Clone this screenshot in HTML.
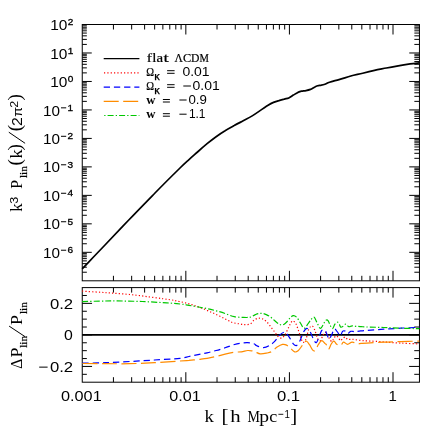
<!DOCTYPE html><html><head><meta charset="utf-8"><style>html,body{margin:0;padding:0;background:#fff}svg{display:block}text{font-family:"Liberation Serif",serif;fill:#000}.s{font-family:"Liberation Sans",sans-serif}.b{stroke:#000;stroke-width:0.2px}</style></head><body>
<svg style="will-change:transform" width="443" height="443" viewBox="0 0 443 443">
<rect width="443" height="443" fill="#fff"/>
<path d="M113.43 24.50L113.43 29.50M113.43 280.80L113.43 275.80M113.43 287.60L113.43 292.60M113.43 382.20L113.43 377.20M131.67 24.50L131.67 29.50M131.67 280.80L131.67 275.80M131.67 287.60L131.67 292.60M131.67 382.20L131.67 377.20M144.61 24.50L144.61 29.50M144.61 280.80L144.61 275.80M144.61 287.60L144.61 292.60M144.61 382.20L144.61 377.20M154.65 24.50L154.65 29.50M154.65 280.80L154.65 275.80M154.65 287.60L154.65 292.60M154.65 382.20L154.65 377.20M162.86 24.50L162.86 29.50M162.86 280.80L162.86 275.80M162.86 287.60L162.86 292.60M162.86 382.20L162.86 377.20M169.79 24.50L169.79 29.50M169.79 280.80L169.79 275.80M169.79 287.60L169.79 292.60M169.79 382.20L169.79 377.20M175.80 24.50L175.80 29.50M175.80 280.80L175.80 275.80M175.80 287.60L175.80 292.60M175.80 382.20L175.80 377.20M181.10 24.50L181.10 29.50M181.10 280.80L181.10 275.80M181.10 287.60L181.10 292.60M181.10 382.20L181.10 377.20M185.84 24.50L185.84 34.50M185.84 280.80L185.84 270.80M185.84 287.60L185.84 297.60M185.84 382.20L185.84 372.20M217.02 24.50L217.02 29.50M217.02 280.80L217.02 275.80M217.02 287.60L217.02 292.60M217.02 382.20L217.02 377.20M235.26 24.50L235.26 29.50M235.26 280.80L235.26 275.80M235.26 287.60L235.26 292.60M235.26 382.20L235.26 377.20M248.20 24.50L248.20 29.50M248.20 280.80L248.20 275.80M248.20 287.60L248.20 292.60M248.20 382.20L248.20 377.20M258.24 24.50L258.24 29.50M258.24 280.80L258.24 275.80M258.24 287.60L258.24 292.60M258.24 382.20L258.24 377.20M266.44 24.50L266.44 29.50M266.44 280.80L266.44 275.80M266.44 287.60L266.44 292.60M266.44 382.20L266.44 377.20M273.38 24.50L273.38 29.50M273.38 280.80L273.38 275.80M273.38 287.60L273.38 292.60M273.38 382.20L273.38 377.20M279.38 24.50L279.38 29.50M279.38 280.80L279.38 275.80M279.38 287.60L279.38 292.60M279.38 382.20L279.38 377.20M284.68 24.50L284.68 29.50M284.68 280.80L284.68 275.80M284.68 287.60L284.68 292.60M284.68 382.20L284.68 377.20M289.42 24.50L289.42 34.50M289.42 280.80L289.42 270.80M289.42 287.60L289.42 297.60M289.42 382.20L289.42 372.20M320.60 24.50L320.60 29.50M320.60 280.80L320.60 275.80M320.60 287.60L320.60 292.60M320.60 382.20L320.60 377.20M338.84 24.50L338.84 29.50M338.84 280.80L338.84 275.80M338.84 287.60L338.84 292.60M338.84 382.20L338.84 377.20M351.79 24.50L351.79 29.50M351.79 280.80L351.79 275.80M351.79 287.60L351.79 292.60M351.79 382.20L351.79 377.20M361.82 24.50L361.82 29.50M361.82 280.80L361.82 275.80M361.82 287.60L361.82 292.60M361.82 382.20L361.82 377.20M370.03 24.50L370.03 29.50M370.03 280.80L370.03 275.80M370.03 287.60L370.03 292.60M370.03 382.20L370.03 377.20M376.96 24.50L376.96 29.50M376.96 280.80L376.96 275.80M376.96 287.60L376.96 292.60M376.96 382.20L376.96 377.20M382.97 24.50L382.97 29.50M382.97 280.80L382.97 275.80M382.97 287.60L382.97 292.60M382.97 382.20L382.97 377.20M388.27 24.50L388.27 29.50M388.27 280.80L388.27 275.80M388.27 287.60L388.27 292.60M388.27 382.20L388.27 377.20M393.01 24.50L393.01 34.50M393.01 280.80L393.01 270.80M393.01 287.60L393.01 297.60M393.01 382.20L393.01 372.20M82.25 272.23L86.85 272.23M419.45 272.23L414.35 272.23M82.25 267.21L86.85 267.21M419.45 267.21L414.35 267.21M82.25 263.65L86.85 263.65M419.45 263.65L414.35 263.65M82.25 260.89L86.85 260.89M419.45 260.89L414.35 260.89M82.25 258.64L86.85 258.64M419.45 258.64L414.35 258.64M82.25 256.73L86.85 256.73M419.45 256.73L414.35 256.73M82.25 255.08L86.85 255.08M419.45 255.08L414.35 255.08M82.25 253.63L86.85 253.63M419.45 253.63L414.35 253.63M82.25 252.32L91.75 252.32M419.45 252.32L409.25 252.32M82.25 243.75L86.85 243.75M419.45 243.75L414.35 243.75M82.25 238.73L86.85 238.73M419.45 238.73L414.35 238.73M82.25 235.18L86.85 235.18M419.45 235.18L414.35 235.18M82.25 232.42L86.85 232.42M419.45 232.42L414.35 232.42M82.25 230.16L86.85 230.16M419.45 230.16L414.35 230.16M82.25 228.26L86.85 228.26M419.45 228.26L414.35 228.26M82.25 226.60L86.85 226.60M419.45 226.60L414.35 226.60M82.25 225.15L86.85 225.15M419.45 225.15L414.35 225.15M82.25 223.84L91.75 223.84M419.45 223.84L409.25 223.84M82.25 215.27L86.85 215.27M419.45 215.27L414.35 215.27M82.25 210.26L86.85 210.26M419.45 210.26L414.35 210.26M82.25 206.70L86.85 206.70M419.45 206.70L414.35 206.70M82.25 203.94L86.85 203.94M419.45 203.94L414.35 203.94M82.25 201.68L86.85 201.68M419.45 201.68L414.35 201.68M82.25 199.78L86.85 199.78M419.45 199.78L414.35 199.78M82.25 198.13L86.85 198.13M419.45 198.13L414.35 198.13M82.25 196.67L86.85 196.67M419.45 196.67L414.35 196.67M82.25 195.37L91.75 195.37M419.45 195.37L409.25 195.37M82.25 186.79L86.85 186.79M419.45 186.79L414.35 186.79M82.25 181.78L86.85 181.78M419.45 181.78L414.35 181.78M82.25 178.22L86.85 178.22M419.45 178.22L414.35 178.22M82.25 175.46L86.85 175.46M419.45 175.46L414.35 175.46M82.25 173.21L86.85 173.21M419.45 173.21L414.35 173.21M82.25 171.30L86.85 171.30M419.45 171.30L414.35 171.30M82.25 169.65L86.85 169.65M419.45 169.65L414.35 169.65M82.25 168.19L86.85 168.19M419.45 168.19L414.35 168.19M82.25 166.89L91.75 166.89M419.45 166.89L409.25 166.89M82.25 158.32L86.85 158.32M419.45 158.32L414.35 158.32M82.25 153.30L86.85 153.30M419.45 153.30L414.35 153.30M82.25 149.74L86.85 149.74M419.45 149.74L414.35 149.74M82.25 146.98L86.85 146.98M419.45 146.98L414.35 146.98M82.25 144.73L86.85 144.73M419.45 144.73L414.35 144.73M82.25 142.82L86.85 142.82M419.45 142.82L414.35 142.82M82.25 141.17L86.85 141.17M419.45 141.17L414.35 141.17M82.25 139.71L86.85 139.71M419.45 139.71L414.35 139.71M82.25 138.41L91.75 138.41M419.45 138.41L409.25 138.41M82.25 129.84L86.85 129.84M419.45 129.84L414.35 129.84M82.25 124.82L86.85 124.82M419.45 124.82L414.35 124.82M82.25 121.27L86.85 121.27M419.45 121.27L414.35 121.27M82.25 118.51L86.85 118.51M419.45 118.51L414.35 118.51M82.25 116.25L86.85 116.25M419.45 116.25L414.35 116.25M82.25 114.34L86.85 114.34M419.45 114.34L414.35 114.34M82.25 112.69L86.85 112.69M419.45 112.69L414.35 112.69M82.25 111.24L86.85 111.24M419.45 111.24L414.35 111.24M82.25 109.93L91.75 109.93M419.45 109.93L409.25 109.93M82.25 101.36L86.85 101.36M419.45 101.36L414.35 101.36M82.25 96.35L86.85 96.35M419.45 96.35L414.35 96.35M82.25 92.79L86.85 92.79M419.45 92.79L414.35 92.79M82.25 90.03L86.85 90.03M419.45 90.03L414.35 90.03M82.25 87.77L86.85 87.77M419.45 87.77L414.35 87.77M82.25 85.87L86.85 85.87M419.45 85.87L414.35 85.87M82.25 84.22L86.85 84.22M419.45 84.22L414.35 84.22M82.25 82.76L86.85 82.76M419.45 82.76L414.35 82.76M82.25 81.46L91.75 81.46M419.45 81.46L409.25 81.46M82.25 72.88L86.85 72.88M419.45 72.88L414.35 72.88M82.25 67.87L86.85 67.87M419.45 67.87L414.35 67.87M82.25 64.31L86.85 64.31M419.45 64.31L414.35 64.31M82.25 61.55L86.85 61.55M419.45 61.55L414.35 61.55M82.25 59.30L86.85 59.30M419.45 59.30L414.35 59.30M82.25 57.39L86.85 57.39M419.45 57.39L414.35 57.39M82.25 55.74L86.85 55.74M419.45 55.74L414.35 55.74M82.25 54.28L86.85 54.28M419.45 54.28L414.35 54.28M82.25 52.98L91.75 52.98M419.45 52.98L409.25 52.98M82.25 44.41L86.85 44.41M419.45 44.41L414.35 44.41M82.25 39.39L86.85 39.39M419.45 39.39L414.35 39.39M82.25 35.83L86.85 35.83M419.45 35.83L414.35 35.83M82.25 33.07L86.85 33.07M419.45 33.07L414.35 33.07M82.25 30.82L86.85 30.82M419.45 30.82L414.35 30.82M82.25 28.91L86.85 28.91M419.45 28.91L414.35 28.91M82.25 27.26L86.85 27.26M419.45 27.26L414.35 27.26M82.25 25.80L86.85 25.80M419.45 25.80L414.35 25.80M82.25 374.32L86.85 374.32M419.45 374.32L414.25 374.32M82.25 366.43L92.05 366.43M419.45 366.43L409.15 366.43M82.25 358.55L86.85 358.55M419.45 358.55L414.25 358.55M82.25 350.67L86.85 350.67M419.45 350.67L414.25 350.67M82.25 342.78L86.85 342.78M419.45 342.78L414.25 342.78M82.25 334.90L92.05 334.90M419.45 334.90L409.15 334.90M82.25 327.02L86.85 327.02M419.45 327.02L414.25 327.02M82.25 319.13L86.85 319.13M419.45 319.13L414.25 319.13M82.25 311.25L86.85 311.25M419.45 311.25L414.25 311.25M82.25 303.37L92.05 303.37M419.45 303.37L409.15 303.37M82.25 295.48L86.85 295.48M419.45 295.48L414.25 295.48" stroke="#000" stroke-width="1.0" fill="none"/>
<rect x="82.25" y="24.5" width="337.2" height="256.30" fill="none" stroke="#000" stroke-width="1.0"/>
<rect x="82.25" y="287.6" width="337.2" height="94.60" fill="none" stroke="#000" stroke-width="1.0"/>
<path d="M82.2 268.9C84.1 266.9 89.7 261.0 93.5 257.0C97.3 253.0 99.2 251.1 105.0 245.0C110.8 238.9 120.0 229.2 128.3 220.5C136.6 211.8 146.4 201.8 155.0 193.0C163.6 184.2 174.3 173.6 180.0 168.0C185.7 162.4 186.0 162.3 189.0 159.6C192.0 156.8 195.1 154.2 198.1 151.5C201.1 148.8 204.1 146.2 207.1 143.7C210.1 141.2 213.1 138.9 216.1 136.7C219.1 134.5 222.1 132.5 225.1 130.7C228.1 128.8 231.2 127.2 234.2 125.6C237.2 123.9 240.2 122.4 243.2 120.8C246.2 119.2 249.6 117.5 252.2 115.9C254.8 114.3 256.4 113.2 259.0 111.4C261.6 109.6 265.7 106.8 268.1 105.3C270.5 103.8 271.7 103.2 273.5 102.4C275.3 101.6 277.1 101.1 278.9 100.6C280.7 100.0 282.6 99.5 284.3 99.1C286.0 98.6 287.3 98.6 288.8 97.9C290.3 97.2 291.8 96.0 293.3 95.1C294.8 94.2 296.5 93.1 297.9 92.4C299.3 91.8 300.1 91.5 301.5 91.2C302.9 90.9 304.5 90.9 306.0 90.6C307.5 90.3 309.1 89.9 310.5 89.4C311.9 88.9 312.9 88.0 314.1 87.4C315.3 86.8 316.5 86.2 317.7 85.8C318.9 85.4 320.1 85.5 321.3 85.2C322.5 85.0 323.5 84.8 324.9 84.3C326.3 83.8 327.1 83.0 329.5 82.2C331.9 81.4 335.4 80.6 339.0 79.6C342.6 78.6 346.9 77.1 350.8 76.0C354.8 74.9 358.8 74.2 362.7 73.2C366.6 72.2 370.6 71.2 374.5 70.3C378.4 69.4 382.4 68.8 386.4 68.0C390.3 67.2 394.2 66.5 398.2 65.8C402.1 65.1 406.6 64.4 410.1 63.9C413.6 63.4 417.8 62.9 419.3 62.8" stroke="#000" stroke-width="1.7" fill="none"/>
<path d="M82.25 334.90H419.45" stroke="#000" stroke-width="1.8" fill="none"/>
<path d="M82.2 291.1C86.0 291.4 96.9 292.0 104.8 292.6C112.7 293.2 121.4 293.7 129.7 294.5C138.0 295.3 147.8 296.7 154.5 297.6C161.2 298.5 165.9 299.1 170.0 299.7C174.1 300.3 176.1 300.8 179.3 301.5C182.5 302.2 185.9 302.9 189.0 303.8C192.1 304.7 195.1 305.7 198.1 306.8C201.1 307.9 204.1 309.1 207.1 310.4C210.1 311.7 213.1 313.0 216.1 314.4C219.1 315.8 222.4 317.5 225.1 318.9C227.8 320.2 230.0 321.7 232.4 322.5C234.8 323.3 237.5 323.5 239.6 323.9C241.7 324.3 243.2 324.7 245.0 324.7C246.8 324.7 248.9 324.7 250.4 323.9C251.9 323.1 252.8 321.0 254.1 320.1C255.4 319.2 256.8 318.5 258.1 318.3C259.5 318.1 260.8 318.2 262.2 318.7C263.6 319.2 264.9 320.1 266.3 321.4C267.7 322.6 269.0 324.5 270.3 326.2C271.6 327.9 273.1 329.9 274.4 331.6C275.6 333.3 276.6 335.2 277.8 336.3C279.0 337.4 280.6 338.4 281.8 338.1C283.0 337.8 284.1 336.1 285.2 334.3C286.3 332.5 287.6 329.5 288.6 327.5C289.6 325.5 290.5 323.2 291.3 322.1C292.1 321.0 292.5 320.7 293.3 321.0C294.1 321.3 295.2 322.3 296.1 324.1C297.0 325.9 297.9 329.0 298.8 331.6C299.7 334.2 300.7 337.9 301.5 339.7C302.3 341.5 302.7 342.6 303.5 342.4C304.3 342.2 305.3 340.7 306.2 338.5C307.1 336.3 307.8 331.2 308.8 329.1C309.8 327.0 311.2 325.8 312.2 326.0C313.2 326.2 314.0 328.4 314.9 330.5C315.8 332.6 316.7 336.9 317.6 338.6C318.5 340.3 319.4 341.2 320.3 340.6C321.2 340.0 322.2 336.6 323.0 335.2C323.8 333.8 324.4 332.3 325.2 332.3C326.0 332.3 327.0 334.2 327.7 335.3C328.4 336.4 328.8 337.8 329.5 338.9C330.2 339.9 331.1 341.6 331.8 341.6C332.5 341.6 332.9 339.8 333.6 338.9C334.3 337.9 335.0 336.1 335.8 335.9C336.6 335.7 337.8 336.8 338.5 337.6C339.2 338.4 339.6 340.5 340.3 340.7C341.0 340.9 341.8 339.3 342.6 338.7C343.4 338.1 344.5 337.0 345.3 337.1C346.1 337.2 346.6 339.0 347.6 339.4C348.6 339.8 350.0 339.2 351.2 339.2C352.4 339.2 353.1 339.4 354.8 339.6C356.5 339.8 359.1 340.3 361.1 340.5C363.1 340.7 363.1 340.7 366.9 340.9C370.7 341.1 378.2 341.5 383.9 341.9C389.5 342.3 394.9 342.8 400.8 343.1C406.7 343.4 416.3 343.8 419.4 343.9" stroke="#ff0000" stroke-width="1.2" stroke-dasharray="1.2 2.14" fill="none"/>
<path d="M82.5 363.2C86.2 363.1 96.9 363.0 104.8 362.7C112.7 362.4 121.4 361.9 129.7 361.5C138.0 361.1 146.1 360.5 154.5 360.0C162.9 359.5 174.2 358.9 180.0 358.3C185.8 357.7 186.0 357.1 189.0 356.5C192.0 355.9 195.1 355.2 198.1 354.6C201.1 354.0 204.1 353.5 207.1 352.8C210.1 352.1 213.1 351.3 216.1 350.5C219.1 349.7 222.4 348.7 225.1 347.8C227.8 346.9 230.0 345.9 232.4 345.1C234.8 344.4 237.1 343.7 239.6 343.3C242.1 342.9 245.3 342.6 247.7 342.7C250.1 342.8 252.5 343.3 254.0 343.8C255.5 344.3 255.2 345.2 256.8 345.8C258.4 346.4 261.5 347.6 263.5 347.6C265.5 347.6 267.2 346.8 269.0 345.8C270.8 344.8 272.7 343.4 274.4 341.7C276.1 340.0 277.5 337.2 279.1 335.6C280.7 334.0 282.6 332.5 283.9 332.2C285.1 331.9 285.6 332.6 286.6 333.6C287.6 334.6 288.9 336.6 290.0 338.3C291.1 340.0 292.2 342.6 293.3 343.8C294.4 345.0 295.6 345.9 296.7 345.4C297.8 344.8 299.0 342.7 300.1 340.5C301.2 338.3 302.3 334.3 303.4 332.3C304.5 330.3 305.7 328.5 306.8 328.4C307.9 328.3 309.1 330.0 310.2 331.8C311.3 333.6 312.5 337.5 313.5 339.3C314.5 341.1 315.4 343.1 316.3 342.7C317.2 342.3 318.1 339.2 319.0 337.2C319.9 335.2 320.7 331.6 321.7 330.5C322.7 329.4 324.3 330.1 325.1 330.5C325.9 330.9 325.9 331.9 326.4 333.1C326.9 334.3 327.7 336.5 328.2 337.5C328.7 338.5 328.9 339.4 329.5 338.9C330.1 338.4 331.0 336.0 331.8 334.4C332.6 332.8 333.6 329.4 334.5 329.0C335.4 328.6 336.2 330.6 337.2 331.7C338.2 332.8 339.4 335.9 340.3 335.8C341.2 335.7 341.8 332.1 342.6 331.3C343.4 330.5 344.4 330.7 345.3 331.1C346.2 331.5 347.1 333.5 348.0 333.5C348.9 333.5 349.6 331.6 350.7 331.3C351.8 331.0 353.4 331.7 354.8 331.7C356.2 331.7 357.3 331.3 359.3 331.1C361.3 330.9 362.8 330.7 366.9 330.4C371.0 330.1 378.2 329.6 383.9 329.2C389.5 328.8 394.9 328.5 400.8 328.2C406.7 327.9 416.3 327.4 419.4 327.3" stroke="#0000ff" stroke-width="1.2" stroke-dasharray="6.3 3.9" fill="none"/>
<path d="M82.5 363.5C86.2 363.5 96.9 363.7 104.8 363.7C112.7 363.7 121.4 363.9 129.7 363.7C138.0 363.5 146.1 363.1 154.5 362.7C162.9 362.2 174.2 361.4 180.0 361.0C185.8 360.6 186.0 360.6 189.0 360.4C192.0 360.1 195.1 359.9 198.1 359.5C201.1 359.1 204.1 358.8 207.1 358.3C210.1 357.8 213.1 357.2 216.1 356.5C219.1 355.8 222.1 354.8 225.1 354.1C228.1 353.4 231.5 352.7 234.2 352.3C236.9 351.9 239.2 352.1 241.4 351.8C243.7 351.5 245.9 350.6 247.7 350.5C249.5 350.4 250.9 350.7 252.2 350.9C253.5 351.1 254.1 351.4 255.4 351.9C256.7 352.4 258.4 353.7 260.2 353.9C262.0 354.1 264.4 353.6 266.3 353.2C268.2 352.8 269.9 352.6 271.7 351.6C273.5 350.6 275.3 348.3 277.1 347.1C278.9 345.9 280.9 344.7 282.5 344.4C284.1 344.1 285.2 344.4 286.6 345.1C288.0 345.8 289.2 347.4 290.6 348.5C292.0 349.6 293.4 351.5 294.7 351.9C295.9 352.3 297.0 351.7 298.1 350.8C299.2 349.9 300.5 347.9 301.5 346.5C302.5 345.1 303.3 343.3 304.2 342.4C305.1 341.5 305.7 340.9 306.6 341.3C307.5 341.7 308.6 343.4 309.5 344.7C310.4 346.0 311.3 348.4 312.2 349.4C313.1 350.4 313.9 351.6 314.9 350.8C315.9 350.0 317.2 346.4 318.3 344.7C319.4 343.0 320.6 340.8 321.7 340.6C322.8 340.4 324.3 342.9 325.1 343.6C325.9 344.3 325.8 343.9 326.4 344.8C327.0 345.8 327.8 349.5 328.6 349.3C329.4 349.1 330.4 345.2 331.3 343.9C332.2 342.5 333.1 341.1 334.0 341.2C334.9 341.3 335.6 343.6 336.7 344.3C337.8 345.0 339.7 345.7 340.8 345.3C341.9 344.9 342.4 342.3 343.5 342.1C344.6 341.9 346.2 344.3 347.6 344.3C349.0 344.3 350.5 342.2 352.1 342.1C353.8 342.0 356.0 343.7 357.5 343.9C359.0 344.1 359.5 343.5 361.1 343.4C362.7 343.3 363.1 343.3 366.9 343.1C370.7 342.9 378.2 342.4 383.9 342.2C389.5 341.9 394.9 341.8 400.8 341.6C406.7 341.4 416.3 341.2 419.4 341.1" stroke="#ff8c00" stroke-width="1.2" stroke-dasharray="15 4.5" fill="none"/>
<path d="M82.2 301.6C86.0 301.5 99.0 301.1 104.8 301.0C110.6 300.9 111.0 300.8 117.2 300.9C123.4 301.0 133.8 301.2 142.1 301.5C150.4 301.8 160.6 302.5 166.9 302.9C173.2 303.3 176.3 303.6 180.0 304.0C183.7 304.4 186.0 304.8 189.0 305.3C192.0 305.8 195.1 306.4 198.1 307.0C201.1 307.6 204.1 308.0 207.1 308.6C210.1 309.2 213.1 310.0 216.1 310.8C219.1 311.6 222.1 312.5 225.1 313.5C228.1 314.5 231.2 316.1 234.2 316.7C237.2 317.3 240.5 317.3 243.2 317.4C245.9 317.5 248.4 317.6 250.4 317.1C252.4 316.6 253.7 315.2 255.4 314.6C257.1 314.0 259.0 313.3 260.8 313.3C262.6 313.3 264.5 313.8 266.3 314.6C268.1 315.4 269.9 316.6 271.7 318.0C273.5 319.4 275.4 321.6 277.1 322.8C278.8 324.0 280.3 325.1 281.8 325.1C283.3 325.1 284.5 324.0 285.9 322.8C287.3 321.6 288.8 319.2 290.0 318.0C291.2 316.8 292.2 315.7 293.3 315.6C294.4 315.5 295.6 316.2 296.7 317.3C297.8 318.4 298.9 320.7 300.1 322.5C301.3 324.3 302.8 328.1 304.1 328.3C305.4 328.5 306.9 325.2 308.1 323.7C309.3 322.1 310.5 320.1 311.5 319.0C312.5 317.9 313.3 316.8 314.2 317.3C315.1 317.9 315.9 320.5 316.9 322.3C317.9 324.1 319.2 328.2 320.3 328.4C321.4 328.6 322.8 325.1 323.7 323.7C324.6 322.3 325.2 320.7 326.0 320.2C326.8 319.7 327.5 319.9 328.2 320.8C328.9 321.7 329.6 324.5 330.4 325.8C331.1 327.1 331.9 328.8 332.7 328.5C333.4 328.2 334.1 325.2 334.9 324.2C335.7 323.1 336.9 322.1 337.6 322.2C338.4 322.2 338.9 323.7 339.4 324.5C339.9 325.3 340.2 326.9 340.8 327.2C341.4 327.5 342.3 326.8 343.1 326.3C343.9 325.8 344.8 324.0 345.8 324.1C346.8 324.2 347.8 326.4 348.9 326.7C349.9 327.0 351.0 325.9 352.1 325.8C353.2 325.7 354.2 326.2 355.7 326.3C357.2 326.4 359.2 326.5 361.1 326.6C363.0 326.7 363.1 326.9 366.9 327.0C370.7 327.1 378.2 327.3 383.9 327.5C389.5 327.7 394.9 328.0 400.8 328.2C406.7 328.4 416.3 328.6 419.4 328.7" stroke="#00c800" stroke-width="1.2" stroke-dasharray="6 2.1 1.3 2.1" fill="none"/>
<path d="M103.7 58.55H139.4" stroke="#000" stroke-width="1.35" fill="none"/>
<path d="M103.7 72.9H139.4" stroke="#ff0000" stroke-width="1.25" stroke-dasharray="1.2 2.14" stroke-dashoffset="-0.3" fill="none"/>
<path d="M103.7 87.2H139.4" stroke="#0000ff" stroke-width="1.2" stroke-dasharray="6.3 3.9" stroke-dashoffset="0" fill="none"/>
<path d="M103.7 101.4H139.4" stroke="#ff8c00" stroke-width="1.1" stroke-dasharray="15 4.5" stroke-dashoffset="0" fill="none"/>
<path d="M103.7 115.5H139.4" stroke="#00c800" stroke-width="1.15" stroke-dasharray="6 2.1 1.3 2.1" stroke-dashoffset="7.6" fill="none"/>
<text x="146.70" y="62.10" font-size="12.4" class="b" textLength="5.20" lengthAdjust="spacingAndGlyphs">f</text>
<text x="152.20" y="62.10" font-size="12.4" class="b" textLength="4.20" lengthAdjust="spacingAndGlyphs">l</text>
<text x="156.60" y="62.10" font-size="12.4" class="b" textLength="6.60" lengthAdjust="spacingAndGlyphs">a</text>
<text x="163.40" y="62.10" font-size="12.4" class="b" textLength="5.20" lengthAdjust="spacingAndGlyphs">t</text>
<text x="174.50" y="62.10" font-size="12.4" class="b" textLength="8.40" lengthAdjust="spacingAndGlyphs">Λ</text>
<text x="182.90" y="62.10" font-size="12.4" class="b" textLength="8.20" lengthAdjust="spacingAndGlyphs">C</text>
<text x="191.10" y="62.10" font-size="12.4" class="b" textLength="8.40" lengthAdjust="spacingAndGlyphs">D</text>
<text x="199.50" y="62.10" font-size="12.4" class="b" textLength="9.40" lengthAdjust="spacingAndGlyphs">M</text>
<text x="146.30" y="76.10" font-size="13.0" class="b" textLength="7.80" lengthAdjust="spacingAndGlyphs">Ω</text>
<text x="154.60" y="79.90" font-size="8.4" class="s" textLength="5.40" lengthAdjust="spacingAndGlyphs" font-weight="bold" stroke="#000" stroke-width="0.25">K</text>
<path d="M167.10 73.30H174.60" stroke="#000" stroke-width="1.0" fill="none"/>
<path d="M167.10 70.70H174.60" stroke="#000" stroke-width="1.0" fill="none"/>
<text x="182.40" y="76.00" font-size="12" class="s" textLength="27.20" lengthAdjust="spacingAndGlyphs">0.01</text>
<text x="146.30" y="90.10" font-size="13.0" class="b" textLength="7.80" lengthAdjust="spacingAndGlyphs">Ω</text>
<text x="154.60" y="93.90" font-size="8.4" class="s" textLength="5.40" lengthAdjust="spacingAndGlyphs" font-weight="bold" stroke="#000" stroke-width="0.25">K</text>
<path d="M167.10 87.30H174.60" stroke="#000" stroke-width="1.0" fill="none"/>
<path d="M167.10 84.70H174.60" stroke="#000" stroke-width="1.0" fill="none"/>
<path d="M183.30 86.00H190.90" stroke="#000" stroke-width="1.0" fill="none"/>
<text x="192.60" y="90.00" font-size="12" class="s" textLength="27.20" lengthAdjust="spacingAndGlyphs">0.01</text>
<text x="146.20" y="104.00" font-size="12.6" textLength="9.20" lengthAdjust="spacingAndGlyphs" font-weight="bold">w</text>
<path d="M162.90 102.00H169.90" stroke="#000" stroke-width="1.0" fill="none"/>
<path d="M162.90 99.50H169.90" stroke="#000" stroke-width="1.0" fill="none"/>
<path d="M179.40 100.00H186.60" stroke="#000" stroke-width="1.0" fill="none"/>
<text x="188.50" y="104.00" font-size="12" class="s" textLength="18.40" lengthAdjust="spacingAndGlyphs">0.9</text>
<text x="146.20" y="118.20" font-size="12.6" textLength="9.20" lengthAdjust="spacingAndGlyphs" font-weight="bold">w</text>
<path d="M162.90 116.20H169.90" stroke="#000" stroke-width="1.0" fill="none"/>
<path d="M162.90 113.70H169.90" stroke="#000" stroke-width="1.0" fill="none"/>
<path d="M179.40 114.20H186.60" stroke="#000" stroke-width="1.0" fill="none"/>
<text x="188.90" y="118.20" font-size="12" class="s" textLength="16.60" lengthAdjust="spacingAndGlyphs">1.1</text>
<text x="61.00" y="401.30" font-size="15" class="s" textLength="40.70" lengthAdjust="spacingAndGlyphs">0.001</text>
<text x="169.24" y="401.30" font-size="15" class="s" textLength="31.40" lengthAdjust="spacingAndGlyphs">0.01</text>
<text x="276.92" y="401.30" font-size="15" class="s" textLength="23.20" lengthAdjust="spacingAndGlyphs">0.1</text>
<text x="388.41" y="401.30" font-size="15" class="s">1</text>
<text x="50.20" y="30.10" font-size="15" class="s" textLength="17.20" lengthAdjust="spacingAndGlyphs">10</text>
<text x="67.80" y="25.40" font-size="8.8" class="s" textLength="5.60" lengthAdjust="spacingAndGlyphs" stroke="#000" stroke-width="0.3">2</text>
<text x="50.20" y="58.58" font-size="15" class="s" textLength="17.20" lengthAdjust="spacingAndGlyphs">10</text>
<text x="67.80" y="53.88" font-size="8.8" class="s" textLength="5.60" lengthAdjust="spacingAndGlyphs" stroke="#000" stroke-width="0.3">1</text>
<text x="50.20" y="87.06" font-size="15" class="s" textLength="17.20" lengthAdjust="spacingAndGlyphs">10</text>
<text x="67.80" y="82.36" font-size="8.8" class="s" textLength="5.60" lengthAdjust="spacingAndGlyphs" stroke="#000" stroke-width="0.3">0</text>
<text x="43.00" y="115.53" font-size="15" class="s" textLength="17.00" lengthAdjust="spacingAndGlyphs">10</text>
<path d="M61.00 107.83H66.20" stroke="#000" stroke-width="1.0" fill="none"/>
<text x="67.40" y="110.83" font-size="8.8" class="s" textLength="5.60" lengthAdjust="spacingAndGlyphs" stroke="#000" stroke-width="0.3">1</text>
<text x="43.00" y="144.01" font-size="15" class="s" textLength="17.00" lengthAdjust="spacingAndGlyphs">10</text>
<path d="M61.00 136.31H66.20" stroke="#000" stroke-width="1.0" fill="none"/>
<text x="67.40" y="139.31" font-size="8.8" class="s" textLength="5.60" lengthAdjust="spacingAndGlyphs" stroke="#000" stroke-width="0.3">2</text>
<text x="43.00" y="172.49" font-size="15" class="s" textLength="17.00" lengthAdjust="spacingAndGlyphs">10</text>
<path d="M61.00 164.79H66.20" stroke="#000" stroke-width="1.0" fill="none"/>
<text x="67.40" y="167.79" font-size="8.8" class="s" textLength="5.60" lengthAdjust="spacingAndGlyphs" stroke="#000" stroke-width="0.3">3</text>
<text x="43.00" y="200.97" font-size="15" class="s" textLength="17.00" lengthAdjust="spacingAndGlyphs">10</text>
<path d="M61.00 193.27H66.20" stroke="#000" stroke-width="1.0" fill="none"/>
<text x="67.40" y="196.27" font-size="8.8" class="s" textLength="5.60" lengthAdjust="spacingAndGlyphs" stroke="#000" stroke-width="0.3">4</text>
<text x="43.00" y="229.44" font-size="15" class="s" textLength="17.00" lengthAdjust="spacingAndGlyphs">10</text>
<path d="M61.00 221.74H66.20" stroke="#000" stroke-width="1.0" fill="none"/>
<text x="67.40" y="224.74" font-size="8.8" class="s" textLength="5.60" lengthAdjust="spacingAndGlyphs" stroke="#000" stroke-width="0.3">5</text>
<text x="43.00" y="257.92" font-size="15" class="s" textLength="17.00" lengthAdjust="spacingAndGlyphs">10</text>
<path d="M61.00 250.22H66.20" stroke="#000" stroke-width="1.0" fill="none"/>
<text x="67.40" y="253.22" font-size="8.8" class="s" textLength="5.60" lengthAdjust="spacingAndGlyphs" stroke="#000" stroke-width="0.3">6</text>
<text x="49.90" y="308.77" font-size="15" class="s" textLength="23.20" lengthAdjust="spacingAndGlyphs">0.2</text>
<text x="64.00" y="340.30" font-size="15" class="s" textLength="8.80" lengthAdjust="spacingAndGlyphs">0</text>
<path d="M39.20 367.13H47.60" stroke="#000" stroke-width="1.0" fill="none"/>
<text x="49.90" y="371.83" font-size="15" class="s" textLength="23.20" lengthAdjust="spacingAndGlyphs">0.2</text>
<text x="204.60" y="422.30" font-size="16.4" textLength="9.40" lengthAdjust="spacingAndGlyphs">k</text>
<text x="221.60" y="422.00" font-size="17.9" textLength="7.00" lengthAdjust="spacingAndGlyphs">[</text>
<text x="230.20" y="422.30" font-size="16.4" textLength="10.40" lengthAdjust="spacingAndGlyphs">h</text>
<text x="247.60" y="422.30" font-size="16.4" textLength="12.40" lengthAdjust="spacingAndGlyphs">M</text>
<text x="259.20" y="422.30" font-size="16.4" textLength="9.80" lengthAdjust="spacingAndGlyphs">p</text>
<text x="269.20" y="422.30" font-size="16.4" textLength="8.00" lengthAdjust="spacingAndGlyphs">c</text>
<path d="M278.40 414.30H283.30" stroke="#000" stroke-width="0.9" fill="none"/>
<text x="284.60" y="417.70" font-size="10" class="s" textLength="5.40" lengthAdjust="spacingAndGlyphs">1</text>
<text x="290.20" y="422.00" font-size="17.9" textLength="7.00" lengthAdjust="spacingAndGlyphs">]</text>
<g transform="translate(22.3 211.4) rotate(-90)">
<text x="-0.30" y="0.00" font-size="16.4" textLength="8.40" lengthAdjust="spacingAndGlyphs">k</text>
<text x="7.60" y="-4.80" font-size="10.5" class="s" textLength="7.00" lengthAdjust="spacingAndGlyphs">3</text>
<text x="22.60" y="0.00" font-size="17" textLength="8.80" lengthAdjust="spacingAndGlyphs">P</text>
<text x="33.40" y="4.70" font-size="9.6" class="b" textLength="11.90" lengthAdjust="spacingAndGlyphs">lin</text>
<text x="45.90" y="-0.90" font-size="19.4" textLength="6.40" lengthAdjust="spacingAndGlyphs">(</text>
<text x="53.00" y="0.00" font-size="16.4" textLength="9.20" lengthAdjust="spacingAndGlyphs">k</text>
<text x="61.00" y="-0.90" font-size="19.4" textLength="6.40" lengthAdjust="spacingAndGlyphs">)</text>
<path d="M68.1 2.8L79.2 -13.5" stroke="#000" stroke-width="1.0"/>
<text x="80.20" y="-0.90" font-size="19.4" textLength="6.40" lengthAdjust="spacingAndGlyphs">(</text>
<text x="85.30" y="0.00" font-size="15" class="s" textLength="8.80" lengthAdjust="spacingAndGlyphs">2</text>
<text x="94.60" y="0.00" font-size="12.8" class="s" textLength="9.80" lengthAdjust="spacingAndGlyphs">π</text>
<text x="103.60" y="-4.80" font-size="10.5" class="s" textLength="7.00" lengthAdjust="spacingAndGlyphs">2</text>
<text x="110.80" y="-0.90" font-size="19.4" textLength="6.40" lengthAdjust="spacingAndGlyphs">)</text>
</g>
<g transform="translate(22.3 368.6) rotate(-90)">
<text x="-0.20" y="0.00" font-size="16.4" textLength="10.00" lengthAdjust="spacingAndGlyphs">Δ</text>
<text x="11.00" y="0.00" font-size="17" textLength="10.00" lengthAdjust="spacingAndGlyphs">P</text>
<text x="20.80" y="4.70" font-size="9.6" class="b" textLength="11.90" lengthAdjust="spacingAndGlyphs">lin</text>
<path d="M31.9 2.8L42.5 -13.2" stroke="#000" stroke-width="1.0"/>
<text x="43.60" y="0.00" font-size="17" textLength="10.00" lengthAdjust="spacingAndGlyphs">P</text>
<text x="54.50" y="4.70" font-size="9.6" class="b" textLength="11.90" lengthAdjust="spacingAndGlyphs">lin</text>
</g>
</svg></body></html>
